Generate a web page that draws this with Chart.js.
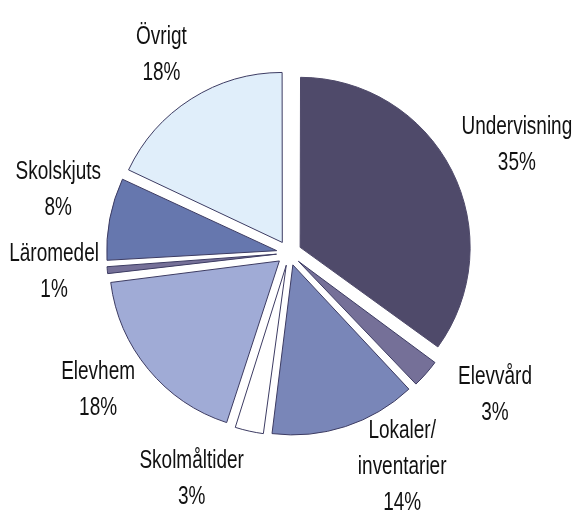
<!DOCTYPE html>
<html>
<head>
<meta charset="utf-8">
<script src="https://cdn.jsdelivr.net/npm/chart.js@4"></script>
<style>
  html, body { margin: 0; padding: 0; background: #ffffff; }
  #wrap { width: 576px; height: 514px; }
</style>
</head>
<body>
<div id="wrap"><canvas id="pieChart"></canvas></div>
<script>
// categories, clockwise from 12 o'clock
const categories = ['Undervisning', 'Elevvård', 'Lokaler/\ninventarier', 'Skolmåltider',
  'Elevhem', 'Läromedel', 'Skolskjuts', 'Övrigt'];
const shares = [35, 3, 14, 3, 18, 1, 8, 18];
const sliceColors = ['#4f4a6a', '#757098', '#7986b8', '#ffffff',
  '#a0abd6', '#757098', '#6677ae', '#e0eefa'];

// label nudges (px) away from the plain mid-angle spot
const labelNudge = [[14, 1], [26, -17], [39, -14], [-45, -8], [-6, -16], [4, -4], [5, -18], [1, 4]];

// v4 makes small exploded slices bigger, keep one radius for all
const baseArcDraw = Chart.ArcElement.prototype.draw;
Chart.ArcElement.prototype.draw = function (ctx) {
  const o = (this.options.offset || 0) / 4;
  const fix = o * (1 - Math.sin(Math.min(Math.PI, this.circumference || 0)));
  this.outerRadius -= fix;
  baseArcDraw.call(this, ctx);
  this.outerRadius += fix;
};

const outsideLabels = {
  id: 'outsideLabels',
  afterDatasetsDraw(chart) {
    const ctx = chart.ctx;
    const arcs = chart.getDatasetMeta(0).data;
    ctx.save();
    ctx.fillStyle = '#111111';
    ctx.font = '26px "Liberation Sans", Arial, sans-serif';
    ctx.textAlign = 'center';
    ctx.textBaseline = 'middle';
    arcs.forEach((arc, i) => {
      const mid = (arc.startAngle + arc.endAngle) / 2;
      const dist = arc.outerRadius + 70;
      const cx = arc.x + Math.cos(mid) * dist + labelNudge[i][0];
      const cy = arc.y + Math.sin(mid) * dist + labelNudge[i][1];
      const lines = categories[i].split('\n').concat([shares[i] + '%']);
      const lh = 36;
      const top = cy - (lines.length - 1) * lh / 2;
      lines.forEach((txt, k) => {
        ctx.save();
        ctx.translate(cx, top + k * lh);
        ctx.scale(0.73, 1);
        ctx.fillText(txt, 0, 0);
        ctx.restore();
      });
    });
    ctx.restore();
  }
};

new Chart(document.getElementById('pieChart'), {
  type: 'pie',
  data: {
    labels: categories,
    datasets: [{
      data: shares,
      backgroundColor: sliceColors,
      borderColor: ['#4f4a6a', '#3c3b62', '#3c3b62', '#3c3b62', '#3c3b62', '#3c3b62', '#3c3b62', '#3c3b62'],
      borderWidth: 1,
      offset: 50
    }]
  },
  options: {
    responsive: true,
    maintainAspectRatio: false,
    animation: false,
    radius: 170,
    layout: { padding: { left: 2, right: 0, top: 0, bottom: 8 } },
    plugins: {
      legend: { display: false },
      tooltip: { enabled: false }
    }
  },
  plugins: [outsideLabels]
});
</script>
</body>
</html>
